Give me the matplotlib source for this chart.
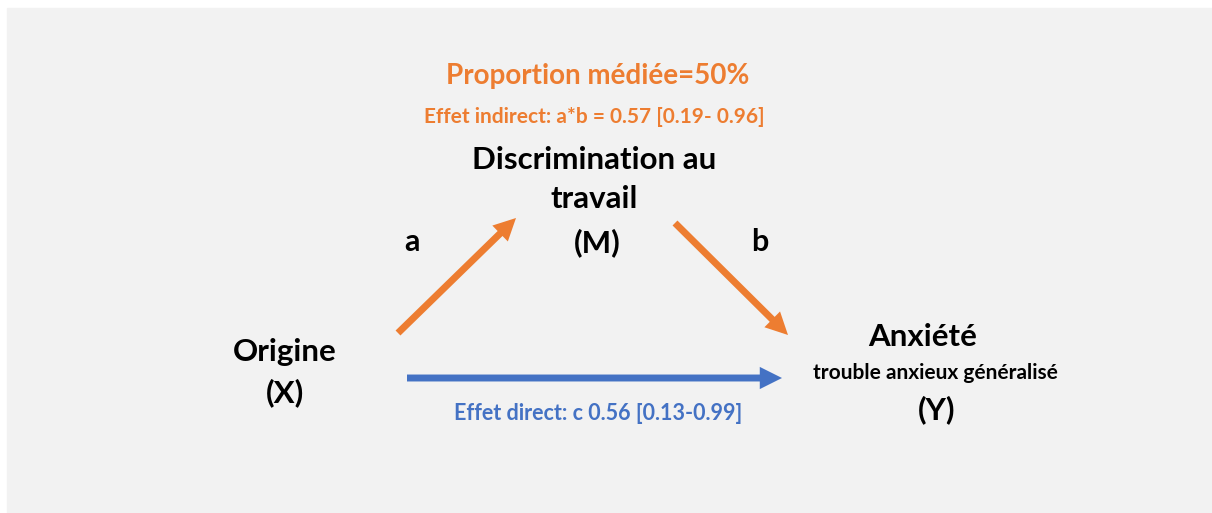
import matplotlib.pyplot as plt
from matplotlib.patches import FancyArrowPatch, Rectangle

plt.rcParams['font.family'] = ['Lato', 'DejaVu Sans']

orange = '#ED7D31'
blue = '#4472C4'

# node labels: (text, x, y, size, colour)
labels = [
    ("Proportion médiée=50%", 598, 76, 20, orange),
    ("Effet indirect: a*b = 0.57 [0.19- 0.96]", 594, 117, 15, orange),
    ("Discrimination au", 594, 160, 22.5, 'black'),
    ("travail", 594, 199, 22.5, 'black'),
    ("(M)", 597, 243, 22.5, 'black'),
    ("a", 412, 242, 22, 'black'),
    ("b", 760, 242, 22, 'black'),
    ("Origine", 285, 352, 22.5, 'black'),
    ("(X)", 285, 393, 22.5, 'black'),
    ("Anxiété", 923, 337, 22.5, 'black'),
    ("trouble anxieux généralisé", 935, 373, 15, 'black'),
    ("(Y)", 937, 410, 22.5, 'black'),
    ("Effet direct: c 0.56 [0.13-0.99]", 598, 413, 15.5, blue),
]

# paths: start, end, colour
paths_start = [(398, 333), (675, 223), (407, 378)]
paths_end = [(516, 218), (788, 335), (782, 378)]
paths_color = [orange, orange, blue]

fig = plt.figure(figsize=(12.12, 5.13), dpi=100)
ax = fig.add_axes([0, 0, 1, 1])
ax.set_xlim(0, 1212)
ax.set_ylim(513, 0)
ax.axis('off')

ax.add_patch(Rectangle((7, 8), 1220, 520, color='#f2f2f2', zorder=0, clip_on=False))

for s, e, c in zip(paths_start, paths_end, paths_color):
    arr = FancyArrowPatch(s, e, arrowstyle='simple,head_width=1.6,head_length=1.6,tail_width=0.5',
                          mutation_scale=10, color=c, lw=0, shrinkA=0, shrinkB=0)
    ax.add_patch(arr)

for txt, x, y, size, c in labels:
    ax.text(x, y, txt, fontsize=size, color=c, fontweight='bold', ha='center', va='center')

plt.savefig('out.png', dpi=100)
